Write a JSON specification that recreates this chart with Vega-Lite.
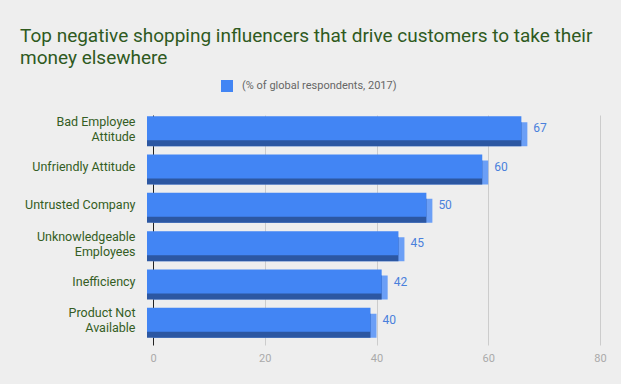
{
  "$schema": "https://vega.github.io/schema/vega-lite/v6.json",
  "width": 447,
  "height": 230,
  "autosize": "none",
  "padding": {"left": 153, "top": 115, "right": 21, "bottom": 39},
  "background": "#eeeeee",
  "title": {
    "text": ["Top negative shopping influencers that drive customers to take their", "money elsewhere"],
    "anchor": "start",
    "frame": "group",
    "dx": -133,
    "offset": 12,
    "font": "Roboto",
    "fontSize": 19,
    "fontWeight": "normal",
    "color": "#2f5a1e",
    "lineHeight": 22
  },
  "data": {
    "values": [
      {"influencer": "Bad Employee Attitude", "value": 67, "series": "(% of global respondents, 2017)"},
      {"influencer": "Unfriendly Attitude", "value": 60, "series": "(% of global respondents, 2017)"},
      {"influencer": "Untrusted Company", "value": 50, "series": "(% of global respondents, 2017)"},
      {"influencer": "Unknowledgeable Employees", "value": 45, "series": "(% of global respondents, 2017)"},
      {"influencer": "Inefficiency", "value": 42, "series": "(% of global respondents, 2017)"},
      {"influencer": "Product Not Available", "value": 40, "series": "(% of global respondents, 2017)"}
    ]
  },
  "encoding": {
    "y": {
      "field": "influencer",
      "type": "nominal",
      "sort": null,
      "title": null,
      "scale": {"paddingInner": 0, "paddingOuter": 0},
      "axis": {
        "domain": false,
        "ticks": false,
        "grid": false,
        "labelPadding": 18,
        "labelOffset": {"expr": "(datum.value == 'Bad Employee Attitude' || datum.value == 'Unknowledgeable Employees' || datum.value == 'Product Not Available') ? -12.5 : -6"},
        "labelFont": "Roboto",
        "labelFontSize": 12.5,
        "labelColor": "#345d24",
        "labelLineHeight": 15,
        "labelLimit": 200,
        "labelExpr": "datum.value == 'Bad Employee Attitude' ? ['Bad Employee', 'Attitude'] : datum.value == 'Unknowledgeable Employees' ? ['Unknowledgeable', 'Employees'] : datum.value == 'Product Not Available' ? ['Product Not', 'Available'] : datum.value"
      }
    },
    "x": {
      "field": "value",
      "type": "quantitative",
      "title": null,
      "scale": {"domain": [0, 80], "nice": false},
      "axis": {
        "values": [0, 20, 40, 60, 80],
        "grid": true,
        "gridColor": {"expr": "datum.value == 0 ? '#222222' : '#cccccc'"},
        "domain": false,
        "ticks": false,
        "labelFlush": false,
        "labelFont": "Roboto",
        "labelFontSize": 11,
        "labelColor": "#aaaaaa",
        "labelPadding": 7
      }
    }
  },
  "layer": [
    {
      "mark": {"type": "bar", "size": 24, "color": "#6b9ff6"}
    },
    {
      "mark": {"type": "bar", "size": 24, "color": "#2c57a2", "xOffset": -6, "x2Offset": -6}
    },
    {
      "mark": {"type": "bar", "size": 24, "xOffset": -6, "x2Offset": -6, "yOffset": -6, "y2Offset": -6},
      "encoding": {
        "color": {
          "field": "series",
          "type": "nominal",
          "scale": {"range": ["#4285f4"]},
          "legend": {
            "title": null,
            "orient": "none",
            "legendX": 68,
            "legendY": -35,
            "padding": 0,
            "symbolType": "square",
            "symbolSize": 144,
            "symbolStrokeWidth": 0,
            "labelFont": "Roboto",
            "labelFontSize": 11,
            "labelColor": "#666666",
            "labelOffset": 9,
            "labelLimit": 400
          }
        }
      }
    },
    {
      "mark": {"type": "text", "align": "left", "baseline": "middle", "dx": 6, "dy": -6, "font": "Roboto", "fontSize": 12, "color": "#4a80dc"},
      "encoding": {"text": {"field": "value", "type": "quantitative"}}
    }
  ],
  "config": {"view": {"stroke": null}}
}
